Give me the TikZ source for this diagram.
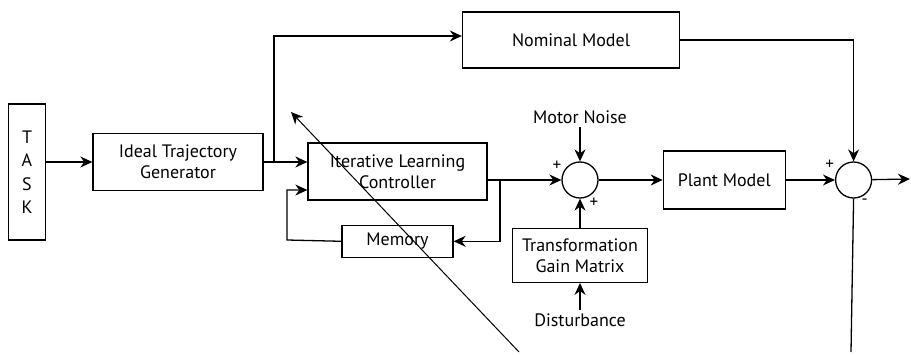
\documentclass[tikz,border=0pt]{standalone}
\usepackage{fontspec}
\setmainfont{PT Sans}
\usetikzlibrary{positioning,calc,arrows.meta}

\begin{document}
\begin{tikzpicture}[x=1pt, y=-1pt,
				font=\fontsize{18}{21}\selectfont,
				box/.style={rectangle, draw, line width=1.3pt, align=center, inner sep=0pt},
				sum/.style={circle, draw, line width=1.3pt, minimum size=36pt, inner sep=0pt},
				sign/.style={inner sep=0pt, font=\fontsize{17}{17}\selectfont},
				wire/.style={line width=1.3pt},
				flow/.style={line width=1.3pt, -{Stealth[length=12pt, width=11pt]}}
			]
			\useasboundingbox (0,0) rectangle (911,355);
			\node[box, minimum width=37pt, minimum height=136pt, font=\fontsize{18}{23.5}\selectfont] (task) at (27,172) {T\\A\\S\\K};
			\node[box, minimum width=170pt, minimum height=57pt] (ideal) at (178,162) {Ideal Trajectory\\Generator};
			\node[box, minimum width=217pt, minimum height=56pt] (nominal) at (571,40) {Nominal Model};
			\node[box, minimum width=179pt, minimum height=57pt] (ilc) at (397.5,171.5) {Iterative Learning\\Controller};
			\node[box, minimum width=111pt, minimum height=32pt] (memory) [below=24pt of ilc] {Memory};
			\node[sum] (sumone) at (580,180) {};
			\node (noise) [above=34pt of sumone] {Motor Noise};
			\node[box, minimum width=135pt, minimum height=54pt] (gain) [below=29pt of sumone] {Transformation\\Gain Matrix};
			\node (dist) [below=27pt of gain] {Disturbance};
			\node[box, minimum width=122pt, minimum height=58pt] (plant) [right=64pt of sumone] {Plant Model};
			\node[sum] (sumtwo) [right=49pt of plant] {};
			% signs at the summing points
			\node[sign] (plusa) at ($(sumone)+(-23,-14)$) {+};
			\node[sign] (plusb) at ($(sumone)+(14,23)$) {+};
			\node[sign] (plusc) at ($(sumtwo)+(-24,-15)$) {+};
			\node[sign] (minus) at ($(sumtwo)+(11,22)$) {-};
			% branch points and free ends
			\coordinate (split) at (274,162);
			\coordinate (tap) at (500,180);
			\coordinate (back) at (287,240);
			\coordinate (out) at (910,179);
			\coordinate (fb) at (851,352);
			\coordinate (ptail) at (519,352);
			\coordinate (phead) at (291,112);
			\draw[flow] (task.east |- ideal.west) -- (ideal.west);
			\draw[wire] (ideal.east) -- (split);
			\draw[flow] (split) -- (split -| ilc.west);
			\draw[flow] (split) |- ($(nominal.west)+(0,-4)$);
			\draw[wire] (ilc.east |- tap) -- (tap);
			\draw[flow] (tap) -- (sumone.west);
			\draw[flow] (tap) |- (memory.east);
			\draw[flow] (memory.west) -- (back) |- ($(ilc.west)+(0,18.5)$);
			\draw[flow] (noise.south) -- (sumone.north);
			\draw[flow] (gain.north) -- (sumone.south);
			\draw[flow] (dist.north) -- (gain.south);
			\draw[flow] (sumone) -- (plant);
			\draw[flow] (plant) -- (sumtwo);
			\draw[flow] (nominal.east) -| (sumtwo.north);
			\draw[flow] (sumtwo) -- (out);
			\draw[wire] (sumtwo.south) -- (fb);
			\draw[flow, line width=1pt] (ptail) -- (phead);
			\end{tikzpicture}
\end{document}
